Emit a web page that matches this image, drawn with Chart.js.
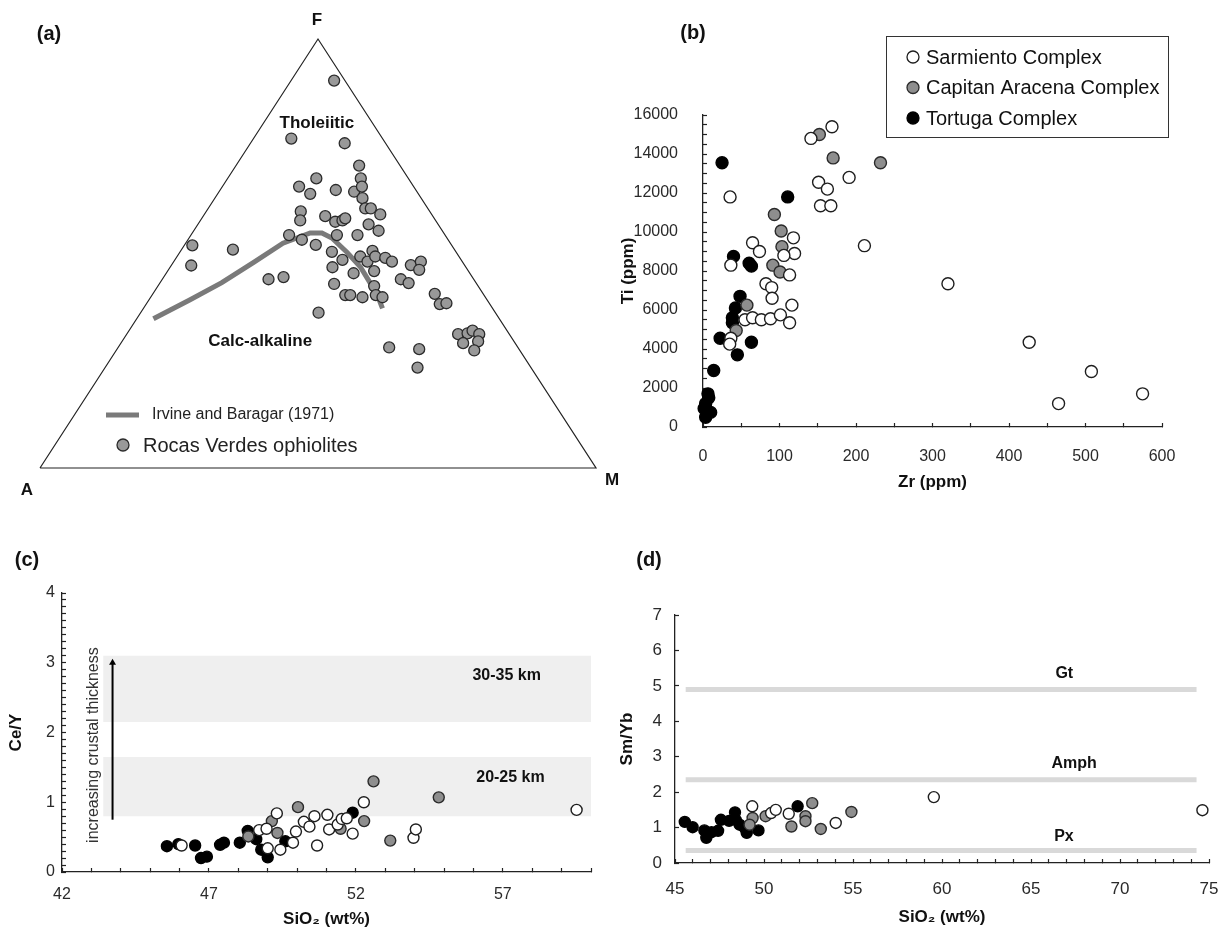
<!DOCTYPE html>
<html>
<head>
<meta charset="utf-8">
<script src="https://cdn.jsdelivr.net/npm/chart.js@4.4.0/dist/chart.umd.min.js"></script>
<style>
  body { margin: 0; background: #fff; width: 1218px; height: 928px; position: relative; overflow: hidden; }
  canvas { position: absolute; }
</style>
</head>
<body>
<canvas id="cA" width="620" height="500" style="left:0;top:0"></canvas>
<canvas id="cB" width="606" height="500" style="left:612px;top:0"></canvas>
<canvas id="cC" width="610" height="388" style="left:0;top:540px"></canvas>
<canvas id="cD" width="608" height="388" style="left:610px;top:540px"></canvas>

<script>
// (a) AFM ternary, plot coords inside the triangle (A=0,0  M=1,0  F=0.5,1)
var triX = [0, 0.5, 1, 0];
var triY = [0, 1, 0, 0];
var ibX = [0.204, 0.270, 0.327, 0.385, 0.437, 0.486, 0.507, 0.525, 0.552, 0.576, 0.594, 0.608, 0.616];
var ibY = [0.348, 0.392, 0.432, 0.480, 0.524, 0.548, 0.548, 0.536, 0.503, 0.469, 0.431, 0.399, 0.372];
var ternX = [0.529,0.452,0.548,0.574,0.497,0.577,0.274,0.347,0.272,0.679,
  0.466,0.486,0.532,0.565,0.579,0.580,0.585,0.595,0.612,0.469,
  0.468,0.513,0.531,0.544,0.549,0.591,0.609,0.448,0.471,0.496,
  0.534,0.571,0.525,0.544,0.526,0.576,0.589,0.598,0.603,0.601,
  0.564,0.621,0.633,0.667,0.685,0.682,0.649,0.663,0.411,0.438,
  0.529,0.549,0.558,0.580,0.601,0.604,0.616,0.710,0.719,0.731,
  0.501,0.752,0.769,0.778,0.790,0.761,0.788,0.781,0.628,0.682];
var ternY = [0.903,0.768,0.757,0.705,0.675,0.675,0.519,0.509,0.472,0.234,
  0.656,0.639,0.648,0.644,0.656,0.629,0.605,0.605,0.591,0.598,
  0.577,0.587,0.574,0.577,0.582,0.568,0.553,0.543,0.532,0.520,
  0.543,0.543,0.504,0.485,0.468,0.493,0.481,0.506,0.493,0.459,
  0.454,0.490,0.481,0.473,0.481,0.462,0.440,0.431,0.440,0.445,
  0.429,0.403,0.403,0.398,0.424,0.403,0.398,0.406,0.382,0.384,
  0.362,0.312,0.314,0.320,0.312,0.291,0.295,0.274,0.281,0.277];

// (b) Ti vs Zr
var sarZr = [168.6,141.1,151.1,162.6,153.6,167.1,191.0,35.4,211.0,64.8,73.8,118.2,119.7,105.7,36.4,113.2,82.3,89.8,90.3,116.2,320.2,54.9,64.8,76.3,88.3,101.2,113.2,36.4,34.9,426.4,507.7,464.8,574.6];
var sarTi = [15400,14800,12550,12200,11350,11350,12800,11800,9300,9450,9000,9700,8900,8800,8300,7800,7350,7150,6600,6250,7350,5500,5600,5500,5550,5750,5350,4550,4250,4350,2850,1200,1700];
var capZr = [152.1,170.1,232.0,93.3,102.2,103.2,91.3,100.7,57.4,43.4];
var capTi = [15000,13800,13550,10900,10050,9250,8300,7950,6250,4950];
var torZr = [24.9,110.7,39.9,60.3,63.3,48.4,42.4,38.4,38.4,22.4,63.3,44.9,14.0,6.5,3.5,10.0,3.5,7.5,1.5];
var torTi = [13550,11800,8750,8400,8250,6700,6100,5600,5350,4550,4350,3700,2900,1700,1200,750,500,1500,950];

// (c) Ce/Y vs SiO2
var sarSiC = [46.07,48.71,48.96,49.31,49.00,49.43,49.86,49.96,50.23,50.42,50.59,50.68,51.03,51.09,51.38,51.52,51.69,51.89,52.27,53.96,54.04,59.51];
var sarCeY = [0.38,0.60,0.62,0.84,0.34,0.32,0.42,0.58,0.72,0.65,0.80,0.38,0.82,0.61,0.68,0.76,0.77,0.55,1.00,0.49,0.61,0.89];
var capSiC = [48.34,49.14,49.33,50.03,51.48,52.28,52.60,53.17,54.82];
var capCeY = [0.51,0.73,0.56,0.93,0.62,0.73,1.30,0.45,1.07];
var torSiC = [45.57,45.96,46.53,46.73,46.93,47.38,47.51,48.05,48.32,48.61,48.78,49.00,49.60,51.89];
var torCeY = [0.37,0.40,0.38,0.20,0.22,0.39,0.42,0.42,0.59,0.47,0.32,0.21,0.44,0.85];
var bandSpan = [43.4, 60];
var band20 = [0.8, 1.65];
var band30 = [2.15, 3.1];

// (d) Sm/Yb vs SiO2
var sarSiD = [49.34,50.40,50.66,51.39,54.03,59.54,74.63];
var sarSmYb = [1.60,1.41,1.50,1.39,1.13,1.86,1.49];
var capSiD = [49.36,49.19,50.09,51.54,52.33,52.33,52.71,53.19,54.91];
var capSmYb = [1.27,1.08,1.32,1.03,1.32,1.18,1.69,0.96,1.44];
var torSiD = [45.55,45.99,46.65,46.76,47.05,47.42,47.58,48.04,48.37,48.41,48.63,48.92,49.03,49.69,51.89];
var torSmYb = [1.16,1.01,0.92,0.71,0.87,0.91,1.22,1.19,1.43,1.22,1.08,0.99,0.85,0.92,1.60];
var refSpan = [45.6, 74.3];
var refGt = 4.9, refAmph = 2.35, refPx = 0.35;

var FONT = '"Liberation Sans", Arial, sans-serif';

function pts(xs, ys) {
    return xs.map(function (x, i) { return {x: x, y: ys[i]}; });
}

var SAR = {label: 'Sarmiento Complex', backgroundColor: '#ffffff', borderColor: '#1e1e1e'};
var CAP = {label: 'Capitan Aracena Complex', backgroundColor: '#8e8e8e', borderColor: '#2a2a2a'};
var TOR = {label: 'Tortuga Complex', backgroundColor: '#000000', borderColor: '#000000'};

function dots(style, data, r) {
    return {
        label: style.label, data: data, backgroundColor: style.backgroundColor,
        borderColor: style.borderColor, borderWidth: 1.4, pointRadius: r || 5.5, clip: false, order: 0
    };
}

// text drawn on the canvas; data:true means x/y are axis values
function notes(list) {
    return {
        id: 'notes',
        afterDraw: function (chart) {
            var ctx = chart.ctx;
            list.forEach(function (n) {
                var x = n.x, y = n.y;
                if (n.data) {
                    x = chart.scales.x.getPixelForValue(n.x);
                    y = chart.scales.y.getPixelForValue(n.y);
                }
                ctx.save();
                ctx.font = n.font;
                ctx.fillStyle = n.color || '#111';
                ctx.textAlign = n.align || 'center';
                ctx.textBaseline = 'middle';
                ctx.translate(x, y);
                if (n.rot) ctx.rotate(n.rot);
                ctx.fillText(n.text, 0, 0);
                ctx.restore();
            });
        }
    };
}

function axis(o) {
    return {
        type: 'linear', min: o.min, max: o.max,
        border: {display: true, color: '#222', width: 1.3},
        grid: {drawOnChartArea: false, drawTicks: true, tickLength: -4, tickColor: '#222', tickWidth: 1.2},
        ticks: {
            stepSize: o.step, autoSkip: false, maxRotation: 0, padding: o.pad, color: '#2a2a2a',
            font: {family: FONT, size: o.fs},
            callback: function (v) { return o.major(v) ? String(Math.round(v)) : ''; }
        },
        title: {
            display: true, text: o.title, color: '#111', padding: o.tpad,
            font: {family: FONT, size: 17, weight: 'bold', lineHeight: 1}
        },
        afterFit: function (s) {
            o.fit(s);
            // keep the plot box where it is, labels may run past it
            s.paddingLeft = 0; s.paddingRight = 0; s.paddingTop = 0; s.paddingBottom = 0;
        }
    };
}

function near(v, step) {
    var r = v / step;
    return Math.abs(r - Math.round(r)) < 1e-6;
}

var baseOpts = function (pad, scales) {
    return {
        responsive: false, animation: false, layout: {padding: pad},
        plugins: {legend: {display: false}, tooltip: {enabled: false}},
        scales: scales
    };
};

// ---------- (a)
var ternLegend = {
    id: 'ternLegend',
    afterDraw: function (chart) {
        var ctx = chart.ctx;
        ctx.save();
        ctx.strokeStyle = '#7a7a7a'; ctx.lineWidth = 5;
        ctx.beginPath(); ctx.moveTo(106, 415); ctx.lineTo(139, 415); ctx.stroke();
        ctx.beginPath(); ctx.arc(123, 445, 6, 0, Math.PI * 2);
        ctx.fillStyle = '#999'; ctx.fill();
        ctx.strokeStyle = '#2b2b2b'; ctx.lineWidth = 1.3; ctx.stroke();
        ctx.fillStyle = '#222'; ctx.textAlign = 'left'; ctx.textBaseline = 'middle';
        ctx.font = '16px ' + FONT;
        ctx.fillText('Irvine and Baragar (1971)', 152, 415);
        ctx.font = '20px ' + FONT;
        ctx.fillText('Rocas Verdes ophiolites', 143, 446);
        ctx.restore();
    }
};

new Chart(document.getElementById('cA'), {
    type: 'scatter',
    data: {
        datasets: [
            {data: pts(ternX, ternY), backgroundColor: '#999999', borderColor: '#2b2b2b', borderWidth: 1.3, pointRadius: 5.5, clip: false, order: 0},
            {data: pts(ibX, ibY), showLine: true, borderColor: '#7a7a7a', borderWidth: 5, pointRadius: 0, clip: false, order: 1},
            {data: pts(triX, triY), showLine: true, borderColor: '#222', borderWidth: 1.2, pointRadius: 0, clip: false, order: 2}
        ]
    },
    options: baseOpts({left: 40, right: 24, top: 39, bottom: 32}, {
        x: {type: 'linear', display: false, min: 0, max: 1},
        y: {type: 'linear', display: false, min: 0, max: 1}
    }),
    plugins: [notes([
        {text: '(a)', x: 49, y: 34, font: 'bold 20px ' + FONT},
        {text: 'F', x: 317, y: 20, font: 'bold 17px ' + FONT},
        {text: 'A', x: 27, y: 490, font: 'bold 17px ' + FONT},
        {text: 'M', x: 612, y: 480, font: 'bold 17px ' + FONT},
        {text: 'Tholeiitic', x: 0.498, y: 0.804, data: true, font: 'bold 17px ' + FONT},
        {text: 'Calc-alkaline', x: 0.396, y: 0.296, data: true, font: 'bold 17px ' + FONT}
    ]), ternLegend]
});

// ---------- (b)
var legendB = {
    id: 'legendB',
    afterDraw: function (chart) {
        var ctx = chart.ctx;
        ctx.save();
        ctx.strokeStyle = '#333'; ctx.lineWidth = 1;
        ctx.strokeRect(274.5, 36.5, 282, 101);
        chart.data.datasets.forEach(function (ds, i) {
            var y = 57 + i * 30.5;
            ctx.beginPath(); ctx.arc(301, y, 6, 0, Math.PI * 2);
            ctx.fillStyle = ds.backgroundColor; ctx.fill();
            ctx.strokeStyle = ds.borderColor; ctx.lineWidth = 1.3; ctx.stroke();
            ctx.fillStyle = '#111'; ctx.font = '20px ' + FONT;
            ctx.textAlign = 'left'; ctx.textBaseline = 'middle';
            ctx.fillText(ds.label, 314, y + 1);
        });
        ctx.restore();
    }
};

new Chart(document.getElementById('cB'), {
    type: 'scatter',
    data: {
        datasets: [
            dots(SAR, pts(sarZr, sarTi), 6),
            dots(CAP, pts(capZr, capTi), 6),
            dots(TOR, pts(torZr, torTi), 6)
        ]
    },
    options: baseOpts({left: 0, right: 56, top: 115, bottom: 0}, {
        x: axis({min: 0, max: 600, step: 50, pad: 24, fs: 16, title: 'Zr (ppm)', tpad: {top: 0, bottom: 9.5},
            major: function (v) { return near(v, 100); }, fit: function (s) { s.height = 73; }}),
        y: axis({min: 0, max: 16000, step: 500, pad: 29, fs: 16, title: 'Ti (ppm)', tpad: {top: 7.5, bottom: 0},
            major: function (v) { return near(v, 2000); }, fit: function (s) { s.width = 91; }})
    }),
    plugins: [notes([{text: '(b)', x: 81, y: 33, font: 'bold 20px ' + FONT}]), legendB]
});

// ---------- (c)
function band(range) {
    return {
        data: pts(bandSpan, [range[1], range[1]]), showLine: true, borderWidth: 0, pointRadius: 0,
        backgroundColor: '#efefef', fill: {value: range[0]}, order: 5
    };
}

new Chart(document.getElementById('cC'), {
    type: 'scatter',
    data: {
        datasets: [
            dots(SAR, pts(sarSiC, sarCeY)),
            dots(CAP, pts(capSiC, capCeY)),
            dots(TOR, pts(torSiC, torCeY)),
            band(band20),
            band(band30),
            {data: pts([43.72, 43.72], [0.75, 3.0]), showLine: true, borderColor: '#000', borderWidth: 2,
                pointRadius: [0, 4], pointStyle: 'triangle', backgroundColor: '#000', pointBorderWidth: 0, order: 1, clip: false}
        ]
    },
    options: baseOpts({left: 0, right: 19, top: 53, bottom: 0}, {
        x: axis({min: 42, max: 60, step: 1, pad: 17, fs: 16, title: 'SiO\u2082 (wt%)', tpad: {top: 0, bottom: 0},
            major: function (v) { return near(v - 42, 5); }, fit: function (s) { s.height = 56; }}),
        y: axis({min: 0, max: 4, step: 0.1, pad: 11, fs: 16, title: 'Ce/Y', tpad: {top: 8, bottom: 0},
            major: function (v) { return near(v, 1); }, fit: function (s) { s.width = 62; }})
    }),
    plugins: [notes([
        {text: '(c)', x: 27, y: 20, font: 'bold 20px ' + FONT},
        {text: '30-35 km', x: 57.13, y: 2.81, data: true, font: 'bold 16px ' + FONT},
        {text: '20-25 km', x: 57.26, y: 1.36, data: true, font: 'bold 16px ' + FONT},
        {text: 'increasing crustal thickness', x: 43.06, y: 1.82, data: true, rot: -Math.PI / 2, color: '#333', font: '16px ' + FONT}
    ])]
});

// ---------- (d)
function refLine(v) {
    return {data: pts(refSpan, [v, v]), showLine: true, borderColor: '#d9d9d9', borderWidth: 5, pointRadius: 0, order: 5};
}

new Chart(document.getElementById('cD'), {
    type: 'scatter',
    data: {
        datasets: [
            dots(SAR, pts(sarSiD, sarSmYb)),
            dots(CAP, pts(capSiD, capSmYb)),
            dots(TOR, pts(torSiD, torSmYb)),
            refLine(refGt), refLine(refAmph), refLine(refPx)
        ]
    },
    options: baseOpts({left: 0, right: 9, top: 75, bottom: 0}, {
        x: axis({min: 45, max: 75, step: 1, pad: 20, fs: 17, title: 'SiO\u2082 (wt%)', tpad: {top: 0, bottom: 2.5},
            major: function (v) { return near(v, 5); }, fit: function (s) { s.height = 65; }}),
        y: axis({min: 0, max: 7, step: 1, pad: 17, fs: 17, title: 'Sm/Yb', tpad: {top: 9, bottom: 0},
            major: function (v) { return near(v, 1); }, fit: function (s) { s.width = 65; }})
    }),
    plugins: [notes([
        {text: '(d)', x: 39, y: 20, font: 'bold 20px ' + FONT},
        {text: 'Gt', x: 66.87, y: 5.34, data: true, font: 'bold 16px ' + FONT},
        {text: 'Amph', x: 67.42, y: 2.80, data: true, font: 'bold 16px ' + FONT},
        {text: 'Px', x: 66.85, y: 0.75, data: true, font: 'bold 16px ' + FONT}
    ])]
});
</script>
</body>
</html>
